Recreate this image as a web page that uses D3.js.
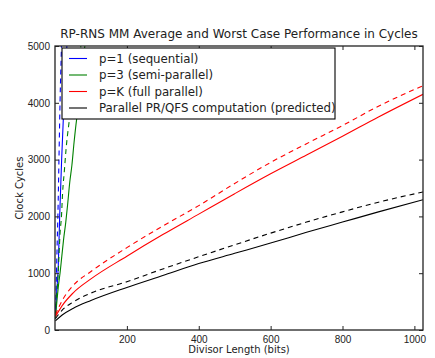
<!doctype html>
<html lang="en">
<head>
<meta charset="utf-8" />
<title>RP-RNS MM Performance</title>
<script src="https://cdn.jsdelivr.net/npm/d3@7/dist/d3.min.js"></script>
<style>
  html, body { margin: 0; padding: 0; background: #fff; }
  svg { display: block; font-family: "DejaVu Sans", sans-serif; }
  .tick text { font-size: 10px; fill: #222; }
</style>
</head>
<body>
<div id="chart"></div>
<script>
// [divisor bits, clock cycles]
const seqAvg = [[1,200],[4,600],[9,1100],[13,2000],[18.5,3000],[25,4000],[33,5000],[36,5500]];
const seqWorst = [[1,220],[3,700],[6,1500],[9,2300],[11,3000],[14,4000],[18,5000],[20,5500]];
const semiAvg = [[1,200],[3,350],[6,550],[10,800],[14,1000],[19,1300],[24,1600],[30,1900],[35,2200],[41,2600],[47,2900],[53,3300],[60,3700],[67,4000],[74,4400],[80,4800],[83,5000],[87,5300]];
const semiWorst = [[1,250],[4,550],[8,900],[11,1300],[14,1700],[18,2000],[21,2400],[26,2800],[31,3200],[38,3600],[47,4000],[58,4500],[72,5000],[76,5200]];
const fullAvg = [[1,235],[20,430],[50,650],[100,900],[200,1300],[300,1680],[400,2040],[500,2400],[600,2750],[700,3080],[800,3410],[900,3750],[1024,4150]];
const fullWorst = [[1,265],[20,520],[50,780],[100,1030],[200,1450],[300,1830],[400,2190],[500,2580],[600,2950],[700,3280],[800,3600],[900,3940],[1024,4300]];
const predAvg = [[1,160],[20,265],[50,380],[100,520],[200,750],[300,960],[400,1170],[500,1350],[600,1530],[700,1720],[800,1900],[900,2080],[1024,2293]];
const predWorst = [[1,200],[20,350],[50,490],[100,650],[200,850],[300,1075],[400,1290],[500,1500],[600,1705],[700,1900],[800,2080],[900,2250],[1024,2430]];

const legendLabels = ['p=1 (sequential)', 'p=3 (semi-parallel)', 'p=K (full parallel)', 'Parallel PR/QFS computation (predicted)'];
const colors = ['#0000ff', '#008000', '#ff0000', '#000000'];
const xTicks = [200, 400, 600, 800, 1000];
const yTicks = [0, 1000, 2000, 3000, 4000, 5000];

const W = 435, H = 358;
const m = { left: 55, top: 46, right: 12, bottom: 28 };
const iw = W - m.left - m.right, ih = H - m.top - m.bottom;

const x = d3.scaleLinear().domain([0, 1024]).range([0, iw]);
const y = d3.scaleLinear().domain([0, 5000]).range([ih, 0]);

const svg = d3.select('#chart').append('svg').attr('width', W).attr('height', H);
svg.append('defs').append('clipPath').attr('id', 'clip')
  .append('rect').attr('width', iw).attr('height', ih);

const g = svg.append('g').attr('transform', `translate(${m.left},${m.top})`);

const series = [
  { d: seqAvg, c: colors[0], dash: null },
  { d: seqWorst, c: colors[0], dash: '5,4' },
  { d: semiAvg, c: colors[1], dash: null },
  { d: semiWorst, c: colors[1], dash: '5,4' },
  { d: fullAvg, c: colors[2], dash: null },
  { d: fullWorst, c: colors[2], dash: '5,4' },
  { d: predAvg, c: colors[3], dash: null },
  { d: predWorst, c: colors[3], dash: '5,4' },
];

const line = d3.line().x(d => x(d[0])).y(d => y(d[1])).curve(d3.curveMonotoneX);
const plot = g.append('g').attr('clip-path', 'url(#clip)');
plot.selectAll('path').data(series).join('path')
  .attr('fill', 'none')
  .attr('stroke', s => s.c)
  .attr('stroke-width', 1.1)
  .attr('stroke-dasharray', s => s.dash)
  .attr('d', s => line(s.d));

// axes, ticks pointing inward on all four sides
const ax = (gen, tr) => g.append('g').attr('transform', tr).call(gen)
  .call(a => a.select('.domain').remove())
  .call(a => a.selectAll('line').attr('stroke', '#222'));
ax(d3.axisBottom(x).tickValues(xTicks).tickSizeInner(-4).tickPadding(6).tickFormat(d3.format('d')), `translate(0,${ih})`);
ax(d3.axisTop(x).tickValues(xTicks).tickSizeInner(-4).tickFormat(''), 'translate(0,0)');
ax(d3.axisLeft(y).tickValues(yTicks).tickSizeInner(-4).tickPadding(5).tickFormat(d3.format('d')), 'translate(0,0)');
ax(d3.axisRight(y).tickValues(yTicks).tickSizeInner(-4).tickFormat(''), `translate(${iw},0)`);

g.append('rect').attr('width', iw).attr('height', ih)
  .attr('fill', 'none').attr('stroke', '#222').attr('stroke-width', 1.3);

// legend
const lg = svg.append('g').attr('transform', 'translate(62,48)');
lg.append('rect').attr('width', 273).attr('height', 71)
  .attr('fill', '#fff').attr('stroke', '#000').attr('stroke-width', 1.1);
const rows = lg.selectAll('g.row').data(legendLabels).join('g')
  .attr('transform', (d, i) => `translate(0,${10.5 + i * 16.5})`);
rows.append('line').attr('x1', 7).attr('x2', 25)
  .attr('stroke', (d, i) => colors[i]).attr('stroke-width', 1.1);
rows.append('text').attr('x', 37).attr('dy', '0.35em')
  .attr('font-size', 11.8).attr('fill', '#222').text(d => d);

svg.append('text').attr('x', m.left + iw / 2).attr('y', 38)
  .attr('text-anchor', 'middle').attr('font-size', 12).attr('fill', '#222')
  .text('RP-RNS MM Average and Worst Case Performance in Cycles');
svg.append('text').attr('x', m.left + iw / 2).attr('y', 353)
  .attr('text-anchor', 'middle').attr('font-size', 10).attr('fill', '#222')
  .text('Divisor Length (bits)');
svg.append('text').attr('transform', `translate(23,${m.top + ih / 2}) rotate(-90)`)
  .attr('text-anchor', 'middle').attr('font-size', 10).attr('fill', '#222')
  .text('Clock Cycles');
</script>
</body>
</html>
